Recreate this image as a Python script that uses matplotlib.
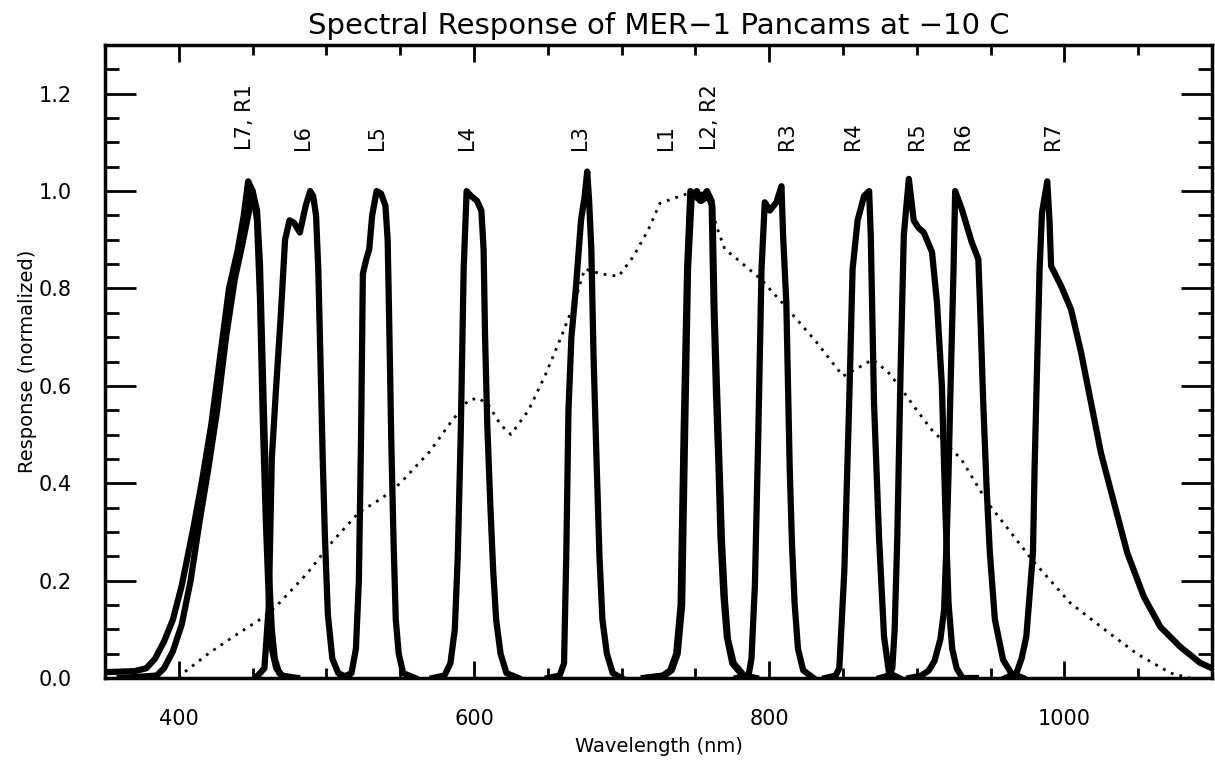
import matplotlib
matplotlib.use('Agg')
import matplotlib.pyplot as plt
from matplotlib.ticker import MultipleLocator

# %% filter curves (wavelength in nm, normalized response)
l7_wl = [350, 370, 378, 384, 390, 396, 402, 410, 416, 422, 428, 434, 440, 444, 447, 450, 453, 455, 457, 459, 461, 463, 466, 470, 480]
l7_r = [0.012, 0.014, 0.02, 0.04, 0.075, 0.12, 0.19, 0.31, 0.41, 0.52, 0.66, 0.80, 0.88, 0.95, 1.02, 1.00, 0.94, 0.78, 0.52, 0.32, 0.16, 0.06, 0.02, 0.005, 0.0]

r1_wl = [360, 385, 390, 396, 402, 408, 414, 420, 426, 432, 438, 443, 447, 450, 453, 455, 457, 459, 461, 463, 465, 468, 472, 480]
r1_r = [0.0, 0.005, 0.02, 0.055, 0.11, 0.2, 0.32, 0.43, 0.55, 0.70, 0.82, 0.89, 0.95, 1.0, 0.96, 0.85, 0.62, 0.40, 0.22, 0.10, 0.04, 0.01, 0.0, 0.0]

l6_wl = [452, 458, 461, 463, 466, 469, 472, 475, 478, 482, 486, 489, 491, 493, 494.5, 496, 497.5, 499, 501, 504, 508, 515]
l6_r = [0.0, 0.02, 0.15, 0.45, 0.60, 0.74, 0.90, 0.94, 0.935, 0.915, 0.97, 1.0, 0.99, 0.95, 0.84, 0.65, 0.45, 0.29, 0.13, 0.04, 0.01, 0.0]

l5_wl = [510, 517, 520, 522, 523.5, 524.7, 527, 529, 531, 534, 537, 540, 541.5, 542.5, 544, 545.5, 547, 549, 552, 560]
l5_r = [0.0, 0.01, 0.06, 0.2, 0.5, 0.83, 0.86, 0.88, 0.95, 1.0, 0.995, 0.97, 0.90, 0.74, 0.48, 0.28, 0.12, 0.05, 0.01, 0.0]

l4_wl = [572, 580, 584, 587, 589, 591, 593, 595, 598, 602, 605, 606.5, 607.5, 609, 611, 613, 615, 618, 622, 630]
l4_r = [0.0, 0.005, 0.03, 0.1, 0.25, 0.5, 0.84, 1.0, 0.99, 0.98, 0.96, 0.88, 0.70, 0.52, 0.36, 0.22, 0.12, 0.05, 0.01, 0.0]

l3_wl = [650, 658, 661, 662.5, 664, 666, 669, 672.5, 675, 676.7, 678, 679.5, 681, 683, 685, 687, 690, 694, 700]
l3_r = [0.0, 0.005, 0.03, 0.25, 0.55, 0.70, 0.80, 0.94, 0.99, 1.04, 0.98, 0.88, 0.66, 0.45, 0.25, 0.12, 0.05, 0.01, 0.0]

l1_wl = [400, 403, 420, 437, 460, 470, 487, 504, 522, 538, 550, 570, 583, 596, 603, 610, 618, 625, 637, 648, 659, 668, 675, 686, 698, 708, 718, 726, 740, 750, 760, 764, 770, 776, 794, 809, 832, 850, 862, 870, 880, 888, 900, 910, 930, 948, 978, 1004, 1027, 1049, 1072, 1085]
l1_r = [0.0, 0.01, 0.05, 0.085, 0.13, 0.16, 0.215, 0.28, 0.34, 0.37, 0.40, 0.465, 0.52, 0.57, 0.575, 0.56, 0.52, 0.50, 0.55, 0.62, 0.70, 0.77, 0.84, 0.83, 0.825, 0.866, 0.92, 0.975, 0.99, 1.0, 0.99, 0.93, 0.88, 0.866, 0.82, 0.77, 0.69, 0.62, 0.64, 0.654, 0.63, 0.60, 0.55, 0.51, 0.45, 0.36, 0.243, 0.154, 0.10, 0.05, 0.01, 0.0]

l2_wl = [715, 728, 733, 737, 740, 742, 744.4, 746.6, 750, 753.3, 757.8, 761, 762.3, 764, 765.7, 767, 769, 771.3, 775, 782, 790]
l2_r = [0.0, 0.005, 0.016, 0.05, 0.15, 0.50, 0.84, 1.0, 0.99, 0.98, 1.0, 0.98, 0.77, 0.58, 0.43, 0.29, 0.17, 0.085, 0.03, 0.005, 0.0]

r2_wl = [716, 729, 734, 738, 741, 743, 745, 747.5, 751, 754, 758.5, 761.5, 763, 765, 766.5, 768, 770, 772, 776, 783, 791]
r2_r = [0.0, 0.005, 0.016, 0.05, 0.15, 0.50, 0.84, 0.99, 1.0, 0.98, 0.99, 0.97, 0.75, 0.56, 0.42, 0.28, 0.16, 0.08, 0.03, 0.005, 0.0]

r3_wl = [778, 786, 788, 790.3, 792.6, 794.8, 797, 800.4, 804.9, 808.3, 809.4, 811.6, 813.9, 815.5, 817.2, 819.5, 823, 830]
r3_r = [0.0, 0.005, 0.04, 0.19, 0.50, 0.84, 0.977, 0.96, 0.977, 1.01, 0.91, 0.77, 0.43, 0.27, 0.154, 0.06, 0.016, 0.0]

r4_wl = [838, 845, 847.5, 850.9, 854.2, 856.5, 859.9, 864.3, 867.7, 868.8, 871, 874.4, 877.8, 881.2, 888]
r4_r = [0.0, 0.005, 0.02, 0.22, 0.566, 0.84, 0.94, 0.99, 1.0, 0.91, 0.566, 0.29, 0.085, 0.01, 0.0]

r5_wl = [875, 881, 883.4, 885, 886.8, 889, 891.2, 894.6, 897.9, 901, 904.7, 910.3, 913.7, 917, 919.2, 921.5, 924, 927, 931, 940]
r5_r = [0.0, 0.005, 0.02, 0.1, 0.29, 0.63, 0.91, 1.025, 0.94, 0.925, 0.915, 0.875, 0.77, 0.60, 0.36, 0.154, 0.06, 0.02, 0.0, 0.0]

r6_wl = [895, 903, 908, 912, 916, 918.5, 920.3, 921.5, 922.6, 924.9, 926, 930.5, 937.2, 941.7, 942.8, 945, 947.3, 949.5, 952.9, 958.5, 964, 972]
r6_r = [0.0, 0.005, 0.015, 0.035, 0.08, 0.14, 0.29, 0.42, 0.566, 0.84, 1.0, 0.963, 0.895, 0.86, 0.77, 0.566, 0.39, 0.257, 0.12, 0.037, 0.01, 0.0]

r7_wl = [960, 967.5, 971, 974.2, 978.7, 979.8, 981, 983.2, 984.8, 988.4, 989.9, 991, 997.8, 1004.5, 1011.2, 1018, 1024.7, 1033.6, 1042.6, 1053.8, 1065, 1078.5, 1092, 1100]
r7_r = [0.0, 0.01, 0.04, 0.085, 0.257, 0.43, 0.58, 0.84, 0.955, 1.02, 0.94, 0.846, 0.805, 0.757, 0.67, 0.566, 0.463, 0.36, 0.257, 0.167, 0.105, 0.064, 0.031, 0.02]

# filter names and where they sit
label_text = ['L7, R1', 'L6', 'L5', 'L4', 'L3', 'L1', 'L2, R2', 'R3', 'R4', 'R5', 'R6', 'R7']
label_wl = [445, 484, 534, 595, 672, 730, 760, 812, 857, 900, 931, 992]

# %%
plt.rcParams['font.family'] = ['DejaVu Sans']

fig = plt.figure(figsize=(12.15, 7.63), dpi=100, facecolor='white')
ax = fig.add_axes([105/1215, 1 - 678/763, (1212 - 105)/1215, (678 - 45)/763])

solid = [(l7_wl, l7_r), (r1_wl, r1_r), (l6_wl, l6_r), (l5_wl, l5_r), (l4_wl, l4_r),
         (l3_wl, l3_r), (l2_wl, l2_r), (r2_wl, r2_r), (r3_wl, r3_r), (r4_wl, r4_r),
         (r5_wl, r5_r), (r6_wl, r6_r), (r7_wl, r7_r)]
for wl, r in solid:
    ax.plot(wl, r, color='black', lw=4.5, solid_joinstyle='round')

ax.plot(l1_wl, l1_r, color='black', lw=2.0, linestyle=(0, (1, 2.2)))

for txt, wl in zip(label_text, label_wl):
    ax.text(wl, 1.085, txt, rotation=90, ha='center', va='bottom', fontsize=15)

ax.set_xlim(350, 1100)
ax.set_ylim(0, 1.3)
ax.xaxis.set_major_locator(MultipleLocator(200))
ax.xaxis.set_minor_locator(MultipleLocator(50))
ax.yaxis.set_major_locator(MultipleLocator(0.2))
ax.yaxis.set_minor_locator(MultipleLocator(0.05))
ax.yaxis.set_major_formatter(plt.FormatStrFormatter('%.1f'))
ax.tick_params(which='both', direction='in', top=True, right=True, width=2, labelsize=15)
ax.tick_params(axis='x', which='major', length=12, pad=22)
ax.tick_params(axis='x', which='minor', length=7)
ax.tick_params(axis='y', which='major', length=22, pad=24)
ax.tick_params(axis='y', which='minor', length=10)
for s in ax.spines.values():
    s.set_linewidth(2.5)

ax.set_title('Spectral Response of MER\u22121 Pancams at \u221210 C', fontsize=21, pad=8)
ax.set_xlabel('Wavelength (nm)', fontsize=14, labelpad=6)
ax.set_ylabel('Response (normalized)', fontsize=14, labelpad=1)

plt.savefig('out.png', dpi=100, facecolor='white')
